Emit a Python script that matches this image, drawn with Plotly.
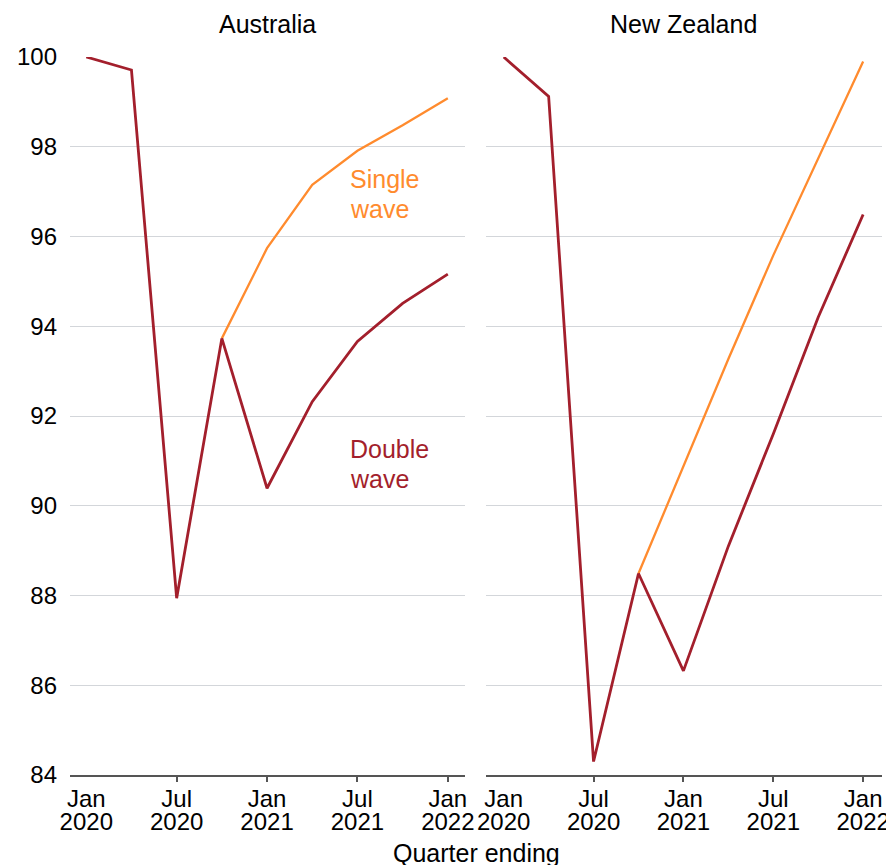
import plotly.graph_objects as go

# ---- data ----
quarters = ["Jan 2020", "Apr 2020", "Jul 2020", "Oct 2020", "Jan 2021",
            "Apr 2021", "Jul 2021", "Oct 2021", "Jan 2022"]
q_index = list(range(len(quarters)))
tick_pos = [0, 2, 4, 6, 8]
tick_month = ["Jan", "Jul", "Jan", "Jul", "Jan"]
tick_year = ["2020", "2020", "2021", "2021", "2022"]
tick_marks = [2, 4, 6, 8]
y_ticks = list(range(84, 101, 2))

aus_double = [100, 99.71, 87.94, 93.73, 90.39, 92.32, 93.66, 94.51, 95.16]
aus_single = [None, None, None, 93.73, 95.74, 97.15, 97.91, 98.48, 99.08]
nz_double = [100, 99.12, 84.30, 88.49, 86.32, 89.10, 91.60, 94.20, 96.49]
nz_single = [None, None, None, 88.49, 90.88, 93.27, 95.58, 97.73, 99.90]

ORANGE = "#FF8B2E"
RED = "#A31F2C"
FONT = "Liberation Sans, Arial, sans-serif"
FS = 24      # tick labels
FS_T = 25    # titles / labels

fig = go.Figure()
fig.add_trace(go.Scatter(x=q_index, y=aus_single, mode="lines", line=dict(color=ORANGE, width=2.3),
                         xaxis="x", yaxis="y", showlegend=False))
fig.add_trace(go.Scatter(x=q_index, y=aus_double, mode="lines", line=dict(color=RED, width=2.8),
                         xaxis="x", yaxis="y", showlegend=False))
fig.add_trace(go.Scatter(x=q_index, y=nz_single, mode="lines", line=dict(color=ORANGE, width=2.3),
                         xaxis="x2", yaxis="y2", showlegend=False))
fig.add_trace(go.Scatter(x=q_index, y=nz_double, mode="lines", line=dict(color=RED, width=2.8),
                         xaxis="x2", yaxis="y2", showlegend=False))
# empty traces to bind overlay axes
for xa, ya in [("x3", "y"), ("x4", "y"), ("x5", "y2"), ("x6", "y2")]:
    fig.add_trace(go.Scatter(x=[], y=[], xaxis=xa, yaxis=ya, showlegend=False, hoverinfo="skip"))

left_range = [-0.36, 8.39]
right_range = [-0.40, 8.42]
axis_col = "#555555"
grid_col = "#D3D6DA"


def month_axis(domain, rng, anchor):
    return dict(domain=domain, range=rng, anchor=anchor, tickmode="array", tickvals=tick_pos,
                ticktext=tick_month, ticks="", showgrid=False, zeroline=False, showline=True,
                linecolor=axis_col, linewidth=1.5, tickfont=dict(size=FS, color="#000"),
                ticklabelstandoff=1)


def tick_axis(rng, over, anchor):
    return dict(overlaying=over, range=rng, anchor=anchor, side="bottom", tickmode="array",
                tickvals=tick_marks, ticks="outside", ticklen=6, tickwidth=1.5, tickcolor=axis_col,
                showticklabels=False, showgrid=False, zeroline=False, showline=False)


def year_axis(rng, over, anchor):
    return dict(overlaying=over, range=rng, anchor=anchor, side="bottom", tickmode="array",
                tickvals=tick_pos, ticktext=tick_year, ticks="", showgrid=False, zeroline=False,
                showline=False, tickfont=dict(size=FS, color="#000"), ticklabelstandoff=30)


def label(text, y, color):
    return dict(text=text, xref="x", yref="y", x=5.8, y=y, showarrow=False,
                xanchor="left", yanchor="middle", align="left", font=dict(size=FS_T, color=color))


# page body has an 8px margin, so the figure is sized to the visible area
fig.update_layout(
    width=886, height=857,
    margin=dict(l=62, r=3, t=49, b=90),
    paper_bgcolor="white", plot_bgcolor="white",
    font=dict(family=FONT, size=FS, color="#000"),
    xaxis=month_axis([0, 0.487], left_range, "y"),
    xaxis2=month_axis([0.512, 1], right_range, "y2"),
    xaxis3=tick_axis(left_range, "x", "y"),
    xaxis4=year_axis(left_range, "x", "y"),
    xaxis5=tick_axis(right_range, "x2", "y2"),
    xaxis6=year_axis(right_range, "x2", "y2"),
    yaxis=dict(domain=[0, 1], range=[84, 100], anchor="x", tickmode="array", tickvals=y_ticks,
               showgrid=True, gridcolor=grid_col, gridwidth=1, zeroline=False, showline=False,
               ticks="", ticklabelstandoff=12, tickfont=dict(size=FS, color="#000")),
    yaxis2=dict(domain=[0, 1], range=[84, 100], anchor="x2", matches="y", tickmode="array",
                tickvals=y_ticks, showgrid=True, gridcolor=grid_col, gridwidth=1, zeroline=False,
                showline=False, ticks="", showticklabels=False),
    annotations=[
        dict(text="Australia", xref="x domain", yref="paper", x=0.5, y=1.046, showarrow=False,
             xanchor="center", yanchor="middle", font=dict(size=FS_T, color="#000")),
        dict(text="New Zealand", xref="x2 domain", yref="paper", x=0.5, y=1.046, showarrow=False,
             xanchor="center", yanchor="middle", font=dict(size=FS_T, color="#000")),
        dict(text="Quarter ending", xref="paper", yref="paper", x=0.5, y=-0.1086, showarrow=False,
             xanchor="center", yanchor="middle", font=dict(size=FS_T, color="#000")),
        label("Single", 97.28, ORANGE),
        label("wave", 96.61, ORANGE),
        label("Double", 91.26, RED),
        label("wave", 90.60, RED),
    ],
)

fig.write_html("out.html")
